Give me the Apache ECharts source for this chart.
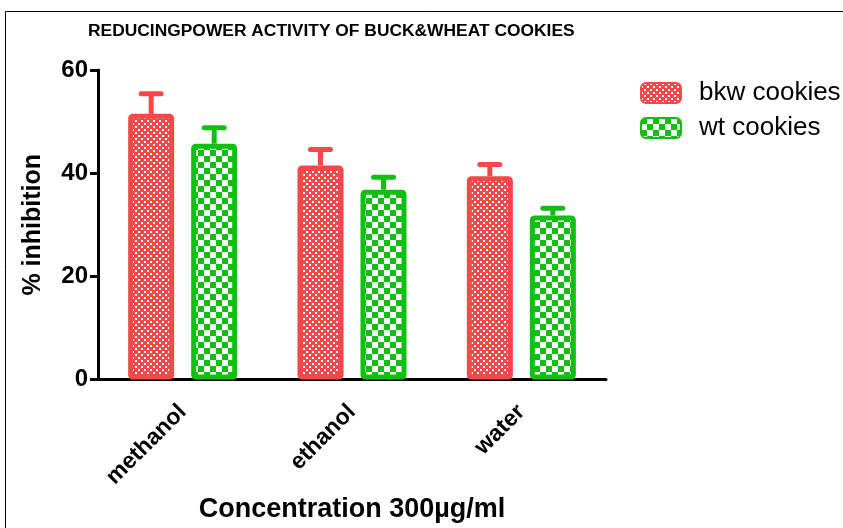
<!DOCTYPE html>
<html>
<head>
<meta charset="utf-8">
<script src="https://cdn.jsdelivr.net/npm/echarts@6/dist/echarts.min.js"></script>
<style>
  html, body { margin: 0; padding: 0; background: #fff; }
  #chart { width: 843px; height: 528px; }
</style>
</head>
<body>
<div id="chart"></div>
<script>
// Reducing power activity per extraction solvent
const categories = ['methanol', 'ethanol', 'water'];
const bkwMean = [51.5, 41.5, 39.4];
const bkwUpper = [55.4, 44.6, 41.7];
const wtMean = [45.7, 36.8, 31.8];
const wtUpper = [48.8, 39.2, 33.2];
const yTicks = [0, 20, 40, 60];

const RED = '#f64848';
const GREEN = '#10c010';
const FONT = '"Liberation Sans", Arial, sans-serif';

// Checkerboard fill tile: coloured cells with white squares of size `hole`
function checker(color, cell, hole) {
  const c = document.createElement('canvas');
  c.width = cell * 2; c.height = cell * 2;
  const g = c.getContext('2d');
  g.fillStyle = color;
  g.fillRect(0, 0, c.width, c.height);
  g.fillStyle = '#ffffff';
  g.fillRect(cell, 0, hole, hole);
  g.fillRect(0, cell, hole, hole);
  return c;
}

const BAR_W = 46;
const BORDER = 5;
const SPACING = 63;            // centre-to-centre distance of the paired bars
const offset = SPACING / 2;

function errorSeries(name, mean, upper, color, dir) {
  return {
    type: 'custom',
    name: name + ' err',
    z: 1,
    silent: true,
    data: categories.map((c, i) => [i, mean[i], upper[i]]),
    encode: { x: 0, y: [1, 2] },
    renderItem: function (params, api) {
      const top = api.coord([api.value(0), api.value(2)]);
      const base = api.coord([api.value(0), api.value(1)]);
      const x = top[0] + dir * offset;
      const cap = 10;
      return {
        type: 'group',
        children: [
          { type: 'line', shape: { x1: x, y1: base[1], x2: x, y2: top[1] },
            style: { stroke: color, lineWidth: 5 } },
          { type: 'line', shape: { x1: x - cap, y1: top[1], x2: x + cap, y2: top[1] },
            style: { stroke: color, lineWidth: 5, lineCap: 'round' } }
        ]
      };
    }
  };
}

const chart = echarts.init(document.getElementById('chart'), null, { renderer: 'canvas' });
chart.setOption({
  animation: false,
  backgroundColor: '#ffffff',
  title: {
    text: 'REDUCINGPOWER ACTIVITY OF BUCK&WHEAT COOKIES',
    left: 83, top: 18,
    textStyle: { fontFamily: FONT, fontWeight: 'bold', fontSize: 17.4, color: '#000' }
  },
  legend: {
    left: 635, top: 75,
    orient: 'vertical',
    itemWidth: 40, itemHeight: 20, itemGap: 9,
    textStyle: { fontFamily: FONT, fontSize: 26, color: '#000', padding: [0, 0, 0, 13] },
    data: ['bkw cookies', 'wt cookies']
  },
  graphic: [
    { type: 'polyline', shape: { points: [[5.5, 528], [5.5, 11.5], [843, 11.5]] },
      style: { stroke: '#000', lineWidth: 1, fill: null } }
  ],
  grid: { left: 98, right: 237, top: 70, bottom: 146 },
  xAxis: {
    type: 'category',
    data: categories,
    name: 'Concentration 300\u00b5g/ml',
    nameLocation: 'middle',
    nameGap: 115,
    nameTextStyle: { fontFamily: FONT, fontWeight: 'bold', fontSize: 27, color: '#000' },
    axisLine: { lineStyle: { color: '#000', width: 3 } },
    axisTick: { alignWithLabel: true, length: 8, lineStyle: { color: '#000', width: 3 } },
    axisLabel: { rotate: 45, margin: 29, fontFamily: FONT, fontWeight: 'bold', fontSize: 23, color: '#000' }
  },
  yAxis: {
    type: 'value',
    min: 0, max: 60, interval: 20,
    name: '% inhibition',
    nameLocation: 'middle',
    nameGap: 52,
    nameTextStyle: { fontFamily: FONT, fontWeight: 'bold', fontSize: 25, color: '#000' },
    splitLine: { show: false },
    axisLine: { show: true, lineStyle: { color: '#000', width: 3 } },
    axisTick: { show: true, length: 8, lineStyle: { color: '#000', width: 3 } },
    axisLabel: {
      margin: 10, fontFamily: FONT, fontWeight: 'bold', fontSize: 24, color: '#000',
      formatter: v => yTicks.includes(v) ? String(v) : ''
    }
  },
  series: [
    {
      name: 'bkw cookies', type: 'bar', data: bkwMean, z: 2,
      barWidth: BAR_W, barGap: ((SPACING / BAR_W - 1) * 100).toFixed(2) + '%',
      itemStyle: { color: { image: checker(RED, 3, 2), repeat: 'repeat' }, borderColor: RED, borderWidth: BORDER, borderRadius: 2 }
    },
    {
      name: 'wt cookies', type: 'bar', data: wtMean, z: 2,
      barWidth: BAR_W,
      itemStyle: { color: { image: checker(GREEN, 6, 6), repeat: 'repeat' }, borderColor: GREEN, borderWidth: BORDER, borderRadius: 2 }
    },
    errorSeries('bkw cookies', bkwMean, bkwUpper, RED, -1),
    errorSeries('wt cookies', wtMean, wtUpper, GREEN, 1)
  ]
});
</script>
</body>
</html>
